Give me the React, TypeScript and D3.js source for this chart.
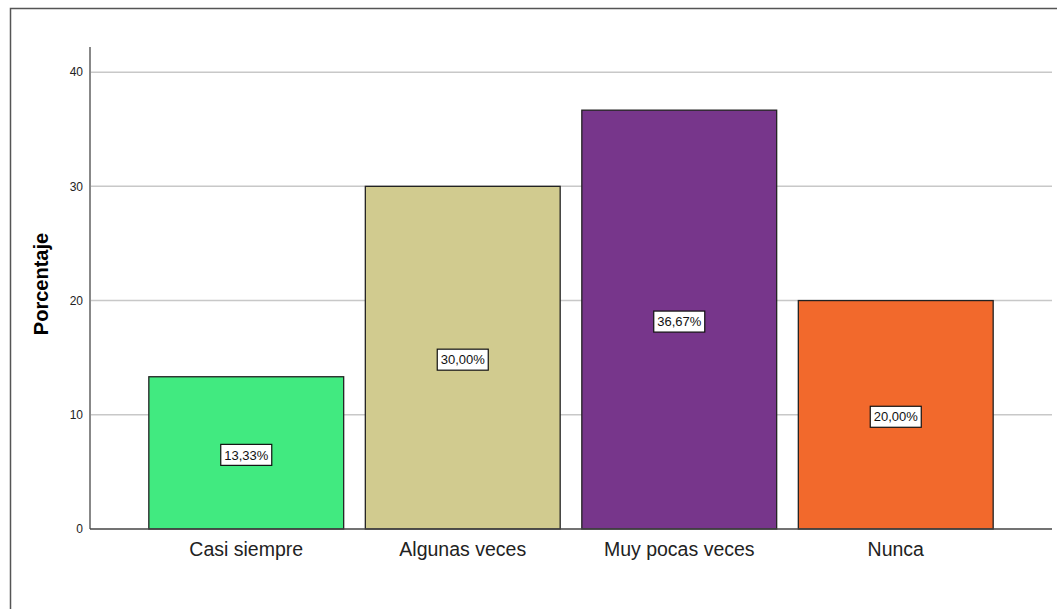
import React, { useEffect, useRef } from 'react';
import * as d3 from 'd3';

const categories = ['Casi siempre', 'Algunas veces', 'Muy pocas veces', 'Nunca'];
const percentages = [13.33, 30.0, 36.67, 20.0];
const barColors = ['#41ea80', '#d1cb8f', '#77368b', '#f2692c'];
const yTicks = [0, 10, 20, 30, 40];

const App: React.FC = () => {
  const svgRef = useRef<SVGSVGElement>(null);

  useEffect(() => {
    if (!svgRef.current) return;
    const svg = d3.select(svgRef.current);
    svg.selectAll('*').remove();

    const width = 1057;
    const height = 609;
    const axisX = 90;
    const plotRight = 1052;
    const fontFamily = 'Arial, "Liberation Sans", Helvetica, sans-serif';

    // outer frame (cut off at right and bottom)
    svg.append('rect')
      .attr('x', 10.5).attr('y', 8.5)
      .attr('width', width + 10).attr('height', height + 10)
      .attr('fill', '#fff')
      .attr('stroke', '#555')
      .attr('stroke-width', 1.5);

    const y = d3.scaleLinear().domain([0, 42.2]).range([529, 47]);
    const x = d3.scaleBand<string>()
      .domain(categories)
      .range([138, 1004])
      .paddingInner(0.1)
      .paddingOuter(0.05);

    // grid lines
    svg.append('g')
      .selectAll('line')
      .data(yTicks.filter(t => t > 0))
      .join('line')
      .attr('x1', axisX).attr('x2', plotRight)
      .attr('y1', d => y(d)).attr('y2', d => y(d))
      .attr('stroke', '#c8c8c8')
      .attr('stroke-width', 1.5);

    // tick labels
    svg.append('g')
      .selectAll('text')
      .data(yTicks)
      .join('text')
      .attr('x', 83)
      .attr('y', d => y(d))
      .attr('dy', '0.35em')
      .attr('text-anchor', 'end')
      .style('font-family', fontFamily)
      .style('font-size', '12px')
      .attr('fill', '#222')
      .text(d => d);

    // bars
    svg.append('g')
      .selectAll('rect')
      .data(percentages)
      .join('rect')
      .attr('x', (_, i) => x(categories[i])!)
      .attr('y', d => y(d))
      .attr('width', x.bandwidth())
      .attr('height', d => y(0) - y(d))
      .attr('fill', (_, i) => barColors[i])
      .attr('stroke', '#222')
      .attr('stroke-width', 1.3);

    // axes lines
    svg.append('line')
      .attr('x1', axisX).attr('x2', axisX)
      .attr('y1', y.range()[1]).attr('y2', y(0))
      .attr('stroke', '#888').attr('stroke-width', 2);
    svg.append('line')
      .attr('x1', axisX).attr('x2', plotRight)
      .attr('y1', y(0)).attr('y2', y(0))
      .attr('stroke', '#444').attr('stroke-width', 1.5);

    // value labels in boxes
    const labels = svg.append('g')
      .selectAll('g')
      .data(percentages)
      .join('g')
      .attr('transform', (d, i) => `translate(${x(categories[i])! + x.bandwidth() / 2},${(y(d) + y(0)) / 2 + 2})`);

    labels.append('rect')
      .attr('x', -25.5).attr('y', -10.5)
      .attr('width', 51).attr('height', 21)
      .attr('fill', '#fff')
      .attr('stroke', '#111')
      .attr('stroke-width', 1.2);

    labels.append('text')
      .attr('text-anchor', 'middle')
      .attr('dy', '0.36em')
      .style('font-family', fontFamily)
      .style('font-size', '13px')
      .attr('fill', '#111')
      .text(d => d.toFixed(2).replace('.', ',') + '%');

    // category labels
    svg.append('g')
      .selectAll('text')
      .data(categories)
      .join('text')
      .attr('x', d => x(d)! + x.bandwidth() / 2)
      .attr('y', 556)
      .attr('text-anchor', 'middle')
      .style('font-family', fontFamily)
      .style('font-size', '19.5px')
      .attr('fill', '#222')
      .text(d => d);

    // y axis title
    svg.append('text')
      .attr('transform', 'translate(48,284) rotate(-90)')
      .attr('text-anchor', 'middle')
      .style('font-family', fontFamily)
      .style('font-size', '20px')
      .style('font-weight', 'bold')
      .attr('fill', '#000')
      .text('Porcentaje');
  }, []);

  return (
    <svg
      ref={svgRef}
      width={1057}
      height={609}
      style={{ position: 'absolute', left: 0, top: 0, background: '#fff' }}
    />
  );
};

export default App;
